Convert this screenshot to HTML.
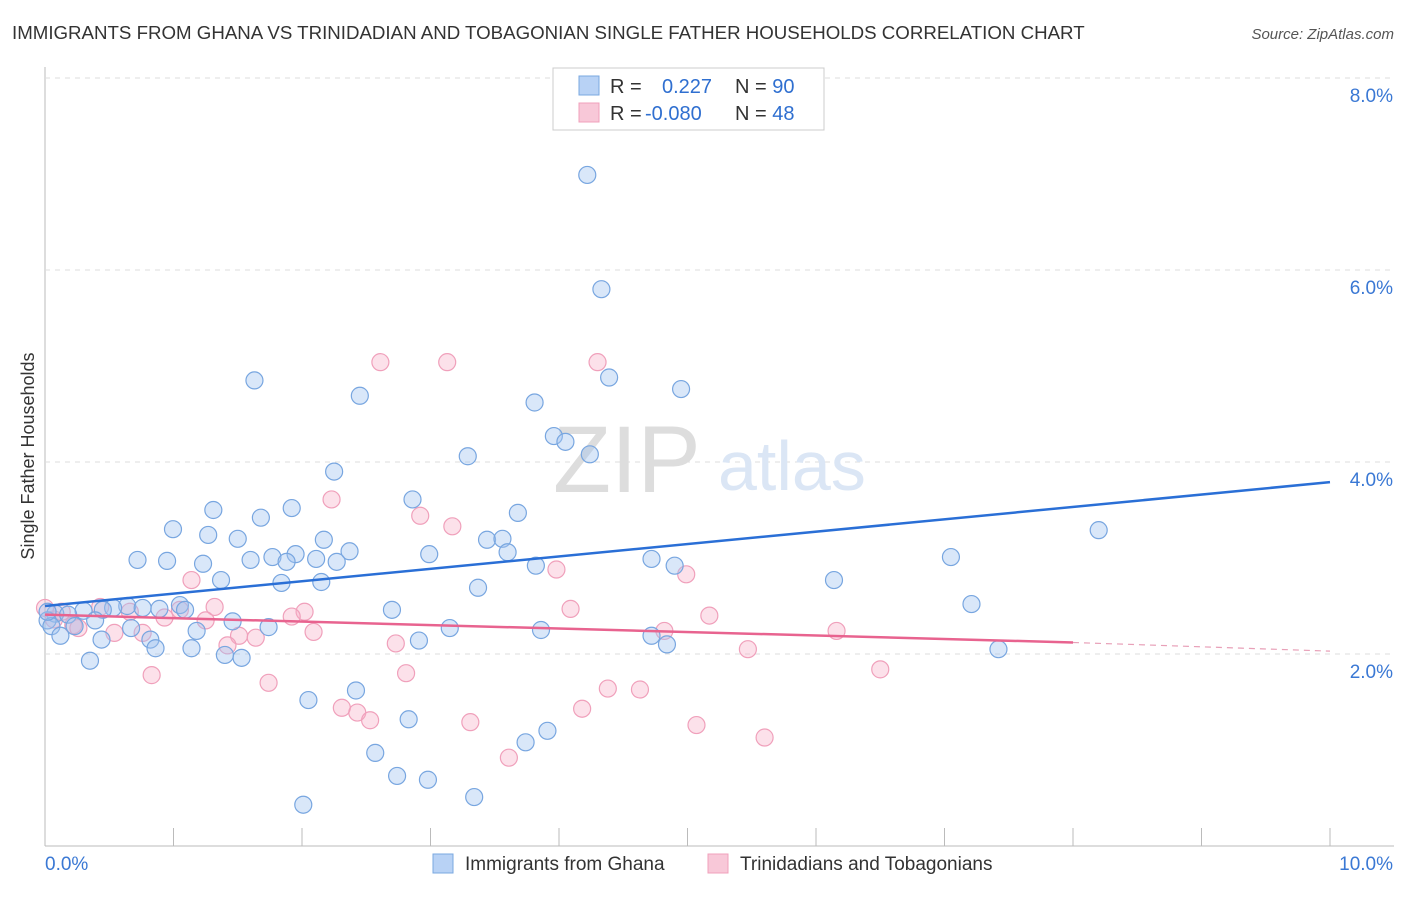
<!DOCTYPE html>
<html><head><meta charset="utf-8"><style>
body{margin:0;background:#fff;font-family:"Liberation Sans",sans-serif;}
svg text{font-family:"Liberation Sans",sans-serif;}
</style></head><body>
<svg width="1406" height="892" viewBox="0 0 1406 892" xmlns="http://www.w3.org/2000/svg">
<text x="12" y="39" font-size="18.7" fill="#333">IMMIGRANTS FROM GHANA VS TRINIDADIAN AND TOBAGONIAN SINGLE FATHER HOUSEHOLDS CORRELATION CHART</text>
<text x="1394" y="39" font-size="15" fill="#555" font-style="italic" text-anchor="end">Source: ZipAtlas.com</text>
<g id="grid"></g>
<text x="553" y="492" font-size="95" fill="#ddd" font-family="Liberation Serif">ZIP</text>
<text x="718" y="490" font-size="70" fill="#dbe6f5">atlas</text>
<g id="pts"></g>
<g id="lines"></g>
<text transform="translate(34,456) rotate(-90)" font-size="18" fill="#333" text-anchor="middle">Single Father Households</text>
<g>
<rect x="553" y="68" width="271" height="62" fill="#fff" stroke="#ccc"/>
<rect x="579" y="76" width="20" height="19" fill="#b8d2f5" stroke="#7aa8e0"/>
<rect x="579" y="103" width="20" height="19" fill="#f8c8d8" stroke="#f0a0bb"/>
<text x="610" y="93" font-size="20" fill="#333">R = <tspan fill="#2f6fd0" x="662">0.227</tspan><tspan x="735" fill="#333">N = </tspan><tspan fill="#2f6fd0">90</tspan></text>
<text x="610" y="120" font-size="20" fill="#333">R = <tspan fill="#2f6fd0" x="645">-0.080</tspan><tspan x="735" fill="#333">N = </tspan><tspan fill="#2f6fd0">48</tspan></text>
</g>
<g>
<rect x="433" y="854" width="20" height="19" fill="#b8d2f5" stroke="#7aa8e0"/>
<text x="465" y="870" font-size="19" fill="#333">Immigrants from Ghana</text>
<rect x="708" y="854" width="20" height="19" fill="#f8c8d8" stroke="#f0a0bb"/>
<text x="740" y="870" font-size="19" fill="#333">Trinidadians and Tobagonians</text>
</g>
</svg>
<script>
const yTicks=[2,4,6,8];
const yTickLabels=["2.0%","4.0%","6.0%","8.0%"];
const xTicks=[0,1,2,3,4,5,6,7,8,9,10];
const ghanaX=[4.22,4.33,1.63,4.39,4.95,2.45,3.81,3.96,4.05,3.29,4.24,2.25,2.86,1.92,1.31,3.68,0.996,1.68,1.27,1.50,8.20,3.44,3.56,2.17,2.37,1.95,3.60,2.99,1.77,0.72,0.95,1.60,2.11,2.27,1.23,1.88,4.72,7.05,4.90,3.82,1.37,1.84,2.15,6.14,3.37,1.05,1.09,7.21,0.64,0.53,0.76,0.89,0.30,0.45,2.70,0.08,0.18,0.39,1.46,0.02,0.05,0.23,0.67,1.74,3.15,3.86,1.18,0.82,0.44,0.12,4.72,2.91,0.86,1.14,4.84,1.40,1.53,7.42,0.35,2.42,2.05,2.83,3.91,3.74,2.57,2.74,2.98,3.34,2.01,0.02];
const ghanaY=[6.99,5.80,4.85,4.88,4.76,4.69,4.62,4.27,4.21,4.06,4.08,3.90,3.61,3.52,3.50,3.47,3.30,3.42,3.24,3.20,3.29,3.19,3.20,3.19,3.07,3.04,3.06,3.04,3.01,2.98,2.97,2.98,2.99,2.96,2.94,2.96,2.99,3.01,2.92,2.92,2.77,2.74,2.75,2.77,2.69,2.51,2.46,2.52,2.50,2.48,2.48,2.47,2.45,2.46,2.46,2.42,2.41,2.35,2.34,2.35,2.29,2.29,2.27,2.28,2.27,2.25,2.24,2.15,2.15,2.19,2.19,2.14,2.06,2.06,2.10,1.99,1.96,2.05,1.93,1.62,1.52,1.32,1.20,1.08,0.97,0.73,0.69,0.51,0.43,2.44];
const trinX=[2.61,3.13,4.30,2.23,2.92,3.17,3.98,4.99,1.14,1.32,4.09,2.02,1.92,1.05,0.13,0.43,0.66,0.93,1.25,0.07,0.22,5.17,4.82,6.16,2.09,1.51,0.54,1.64,0.76,0.26,1.42,2.73,5.47,0.83,2.81,1.74,6.50,4.38,4.63,2.31,2.43,2.53,4.18,3.31,5.07,5.60,3.61,0.0];
const trinY=[5.04,5.04,5.04,3.61,3.44,3.33,2.88,2.83,2.77,2.49,2.47,2.44,2.39,2.46,2.44,2.49,2.44,2.38,2.35,2.36,2.30,2.40,2.24,2.24,2.23,2.19,2.22,2.17,2.22,2.27,2.09,2.11,2.05,1.78,1.80,1.70,1.84,1.64,1.63,1.44,1.39,1.31,1.43,1.29,1.26,1.13,0.92,2.48];
const NS="http://www.w3.org/2000/svg";
const X0=45,X1=1330,Y0=846,PY=96;
const sx=v=>X0+(X1-X0)*v/10, sy=v=>Y0-PY*v;
function mk(t,a,p){const e=document.createElementNS(NS,t);for(const k in a)e.setAttribute(k,a[k]);p.appendChild(e);return e;}
const grid=document.getElementById('grid');
mk('line',{x1:45,y1:67,x2:45,y2:846,stroke:'#bbb'},grid);
mk('line',{x1:45,y1:846,x2:1394,y2:846,stroke:'#bbb'},grid);
yTicks.forEach((v,i)=>{
 const l=mk('line',{x1:45,y1:sy(v),x2:1394,y2:sy(v),stroke:'#ddd','stroke-dasharray':'5,5'},grid);
 
 
 const t=mk('text',{x:1393,y:sy(v)+24,'font-size':19,fill:'#3a78d4','text-anchor':'end'},grid);
 t.textContent=yTickLabels[i];
 
 
});
xTicks.forEach(v=>{
 const l=mk('line',{x1:sx(v),y1:828,x2:sx(v),y2:846,stroke:'#bbb'},grid);
 
 
});
const t0=mk('text',{x:45,y:870,'font-size':19,fill:'#3a78d4'},grid);t0.textContent='0.0%';


const t1=mk('text',{x:1393,y:870,'font-size':19,fill:'#3a78d4','text-anchor':'end'},grid);t1.textContent='10.0%';


const pts=document.getElementById('pts');
trinX.forEach((v,i)=>{const c=mk('circle',{cx:sx(v),cy:sy(trinY[i]),r:8.5,fill:'rgba(245,170,195,0.35)',stroke:'#f0a0bb','stroke-width':1.2},pts);
 
 });
ghanaX.forEach((v,i)=>{const c=mk('circle',{cx:sx(v),cy:sy(ghanaY[i]),r:8.5,fill:'rgba(160,195,240,0.4)',stroke:'#78a6e0','stroke-width':1.2},pts);
 
 });
const lines=document.getElementById('lines');
const b=mk('line',{x1:sx(0),y1:sy(2.50),x2:sx(10),y2:sy(3.79),stroke:'#2a6fd6','stroke-width':2.5},lines);


const p=mk('line',{x1:sx(0),y1:sy(2.41),x2:sx(8),y2:sy(2.12),stroke:'#e8638f','stroke-width':2.5},lines);


const pd=mk('line',{x1:sx(8),y1:sy(2.12),x2:sx(10),y2:sy(2.03),stroke:'#e8a0b8','stroke-width':1.2,'stroke-dasharray':'6,5'},lines);


</script>
</body></html>
